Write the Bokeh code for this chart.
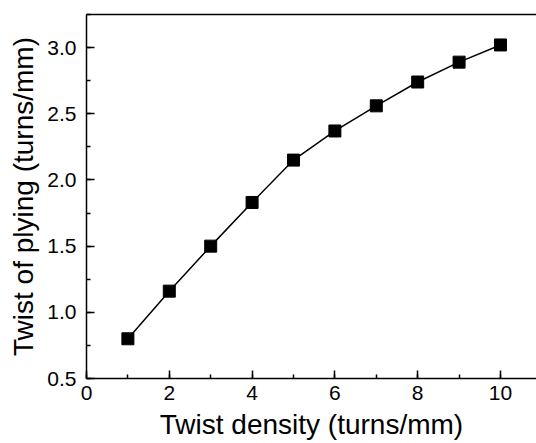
from bokeh.plotting import figure
from bokeh.models import Range1d, SingleIntervalTicker, LinearAxis, NumeralTickFormatter
from bokeh.embed import file_html
from bokeh.resources import INLINE

twist_density = [1, 2, 3, 4, 5, 6, 7, 8, 9, 10]
twist_plying = [0.80, 1.16, 1.50, 1.83, 2.15, 2.37, 2.56, 2.74, 2.89, 3.02]

FONT = "Liberation Sans"

p = figure(width=536, height=443, output_backend="svg", toolbar_location=None,
           x_range=Range1d(0, 10.87), y_range=Range1d(0.5, 3.25),
           min_border_left=86, min_border_right=0, min_border_top=14, min_border_bottom=65)
p.outline_line_color = None
p.grid.visible = False
p.background_fill_color = "white"
p.border_fill_color = "white"

p.line(twist_density, twist_plying, line_color="black", line_width=1.5)
p.scatter(twist_density, twist_plying, marker="square", size=12, fill_color="black", line_color="black")

for ax in (p.xaxis[0], p.yaxis[0]):
    ax.axis_line_width = 1.5
    ax.axis_line_color = "black"
    ax.major_tick_in = 8
    ax.major_tick_out = 0
    ax.minor_tick_in = 4
    ax.minor_tick_out = 0
    ax.major_tick_line_width = 1.5
    ax.minor_tick_line_width = 1.5
    ax.major_tick_line_color = "black"
    ax.minor_tick_line_color = "black"
    ax.major_label_text_font = FONT
    ax.major_label_text_font_size = "21px"
    ax.major_label_text_color = "black"
    ax.axis_label_text_font = FONT
    ax.axis_label_text_font_size = "28px"
    ax.axis_label_text_font_style = "normal"
    ax.axis_label_text_color = "black"

p.xaxis[0].ticker = SingleIntervalTicker(interval=2, num_minor_ticks=2)
p.yaxis[0].ticker = SingleIntervalTicker(interval=0.5, num_minor_ticks=2)
p.yaxis[0].formatter = NumeralTickFormatter(format="0.0")
p.xaxis[0].axis_label = "Twist density (turns/mm)"
p.yaxis[0].axis_label = "Twist of plying (turns/mm)"
p.xaxis[0].major_label_standoff = 7
p.yaxis[0].major_label_standoff = 10
p.xaxis[0].axis_label_standoff = 6
p.yaxis[0].axis_label_standoff = 5

top = LinearAxis(axis_line_width=1.5, axis_line_color="black",
                 major_tick_line_color=None, minor_tick_line_color=None,
                 major_label_text_font_size="0px", major_label_text_color=None)
p.add_layout(top, "above")

open("out.html", "w").write(file_html(p, INLINE))
